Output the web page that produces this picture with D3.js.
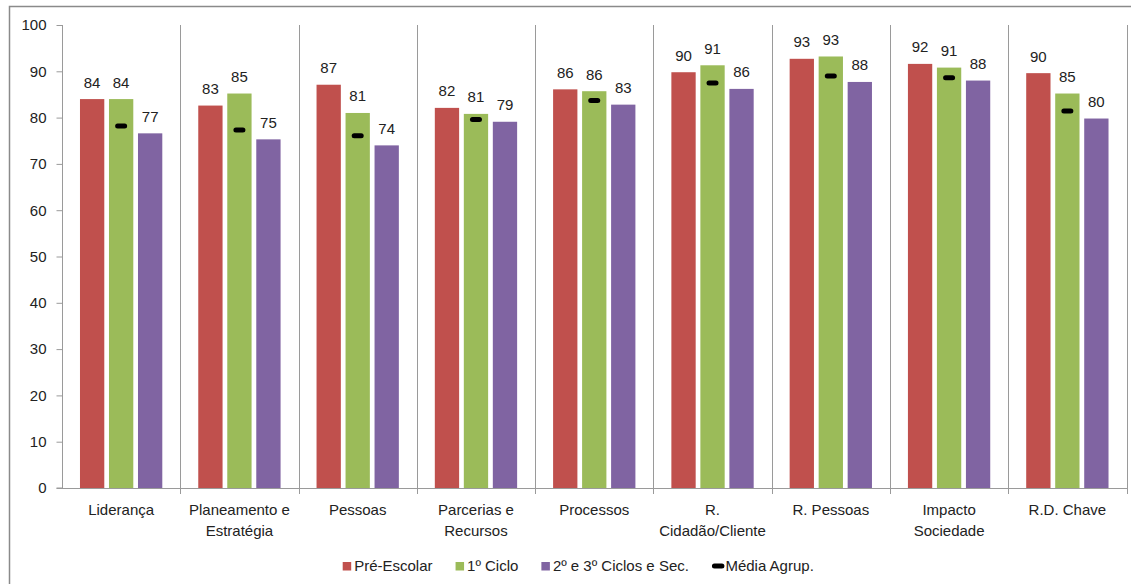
<!DOCTYPE html>
<html>
<head>
<meta charset="utf-8">
<script src="https://cdn.jsdelivr.net/npm/d3@7"></script>
<style>
  html, body { margin: 0; padding: 0; background: #fff; }
  svg { display: block; font-family: "Liberation Sans", Arial, sans-serif; }
</style>
</head>
<body>
<svg id="chart" width="1131" height="584"></svg>
<script>
// Categories (line breaks mark the wrapped axis labels)
const categories = [
  "Liderança",
  "Planeamento e\nEstratégia",
  "Pessoas",
  "Parcerias e\nRecursos",
  "Processos",
  "R.\nCidadão/Cliente",
  "R. Pessoas",
  "Impacto\nSociedade",
  "R.D. Chave"
];

const seriesNames = ["Pré-Escolar", "1º Ciclo", "2º e 3º Ciclos e Sec."];
const meanName = "Média Agrup.";

const preEscolar     = [84.0, 82.6, 87.1, 82.1, 86.1, 89.8, 92.7, 91.6, 89.6];
const primeiroCiclo  = [84.0, 85.2, 81.0, 80.8, 85.7, 91.3, 93.2, 90.8, 85.2];
const segundoTerceiro = [76.6, 75.3, 74.0, 79.1, 82.8, 86.2, 87.7, 88.0, 79.8];
const mediaAgrup     = [78.2, 77.3, 76.1, 79.6, 83.7, 87.5, 89.0, 88.6, 81.4];

const yTicks = [0, 10, 20, 30, 40, 50, 60, 70, 80, 90, 100];

const colors = ["#C0504D", "#9BBB59", "#8064A2"];
const textColor = "#222";
const axisColor = "#9a9a9a";

const seriesValues = [preEscolar, primeiroCiclo, segundoTerceiro];

const svg = d3.select("#chart");

// Outer chart frame
svg.append("rect")
  .attr("x", 9.5).attr("y", 6.5)
  .attr("width", 1140).attr("height", 600)
  .attr("fill", "#fff")
  .attr("stroke", "#8a8a8a")
  .attr("stroke-width", 1.5);

const plot = { left: 62, right: 1126.5, top: 25, bottom: 488 };

const x0 = d3.scaleBand()
  .domain(categories)
  .range([plot.left, plot.right])
  .paddingInner(0).paddingOuter(0);

const x1 = d3.scaleBand()
  .domain(seriesNames)
  .range([0, x0.bandwidth()])
  .paddingInner(0.162)
  .paddingOuter(0.62);

const y = d3.scaleLinear()
  .domain([0, 100])
  .range([plot.bottom, plot.top]);

// Category separators spanning the plot height
const sepPositions = categories.map(c => x0(c)).concat([plot.right]);
svg.append("g")
  .selectAll("line")
  .data(sepPositions.slice(1))
  .join("line")
  .attr("x1", d => Math.round(d) + 0.5).attr("x2", d => Math.round(d) + 0.5)
  .attr("y1", plot.top).attr("y2", plot.bottom + 6)
  .attr("stroke", axisColor).attr("stroke-width", 1);

// Y axis
const yAxis = d3.axisLeft(y)
  .tickValues(yTicks)
  .tickSize(6)
  .tickPadding(10)
  .tickFormat(d3.format("d"));

const gy = svg.append("g")
  .attr("transform", `translate(${plot.left + 0.5},0)`)
  .call(yAxis);
gy.select(".domain").attr("stroke", axisColor).attr("d", `M-6,${plot.bottom}H0V${plot.top}`);
gy.selectAll(".tick line").attr("stroke", axisColor);
gy.selectAll(".tick text")
  .attr("fill", textColor)
  .style("font-size", "15px")
  .style("font-family", '"Liberation Sans", Arial, sans-serif');

// X axis baseline with downward ticks at category boundaries
svg.append("line")
  .attr("x1", plot.left).attr("x2", plot.right + 0.5)
  .attr("y1", plot.bottom + 0.5).attr("y2", plot.bottom + 0.5)
  .attr("stroke", axisColor);

// Bars
const groups = svg.append("g")
  .selectAll("g")
  .data(categories)
  .join("g")
  .attr("transform", c => `translate(${x0(c)},0)`);

groups.selectAll("rect")
  .data((c, i) => seriesNames.map((s, k) => ({ s, k, v: seriesValues[k][i] })))
  .join("rect")
  .attr("x", d => x1(d.s))
  .attr("width", x1.bandwidth())
  .attr("y", d => y(d.v))
  .attr("height", d => y(0) - y(d.v))
  .attr("fill", d => colors[d.k]);

// Value labels above bars
const fmt = d3.format(".0f");
groups.selectAll("text.val")
  .data((c, i) => seriesNames.map((s, k) => ({ s, k, v: seriesValues[k][i] })))
  .join("text")
  .attr("class", "val")
  .attr("x", d => x1(d.s) + x1.bandwidth() / 2)
  .attr("y", d => y(d.v) - 11.5)
  .attr("text-anchor", "middle")
  .attr("fill", textColor)
  .style("font-size", "15px")
  .text(d => fmt(d.v));

// Group average markers (short thick dash on the middle bar)
groups.append("line")
  .datum((c, i) => mediaAgrup[i])
  .attr("x1", x1(seriesNames[1]) + x1.bandwidth() / 2 - 3.5)
  .attr("x2", x1(seriesNames[1]) + x1.bandwidth() / 2 + 3.5)
  .attr("y1", d => y(d)).attr("y2", d => y(d))
  .attr("stroke", "#000")
  .attr("stroke-width", 5)
  .attr("stroke-linecap", "round");

// Category labels (wrapped)
const xLabels = svg.append("g")
  .selectAll("text")
  .data(categories)
  .join("text")
  .attr("x", c => x0(c) + x0.bandwidth() / 2)
  .attr("y", 515)
  .attr("text-anchor", "middle")
  .attr("fill", textColor)
  .style("font-size", "15px");
xLabels.each(function (c) {
  const lines = c.split("\n");
  d3.select(this).selectAll("tspan")
    .data(lines)
    .join("tspan")
    .attr("x", x0(c) + x0.bandwidth() / 2)
    .attr("dy", (d, i) => i === 0 ? 0 : 20.5)
    .text(d => d);
});

// Legend
const legend = svg.append("g").attr("transform", "translate(0,571)");
let lx = 342.7;
seriesNames.forEach((name, k) => {
  legend.append("rect")
    .attr("x", lx).attr("y", -9)
    .attr("width", 8.5).attr("height", 8.5)
    .attr("fill", colors[k]);
  const t = legend.append("text")
    .attr("x", lx + 11.5).attr("y", 0)
    .attr("fill", textColor)
    .style("font-size", "15px")
    .text(name);
  lx += 11.5 + t.node().getComputedTextLength() + 23;
});
legend.append("line")
  .attr("x1", lx + 2.5).attr("x2", lx + 10)
  .attr("y1", -5).attr("y2", -5)
  .attr("stroke", "#000").attr("stroke-width", 5)
  .attr("stroke-linecap", "round");
legend.append("text")
  .attr("x", lx + 13.5).attr("y", 0)
  .attr("fill", textColor)
  .style("font-size", "15px")
  .text(meanName);
</script>
</body>
</html>
